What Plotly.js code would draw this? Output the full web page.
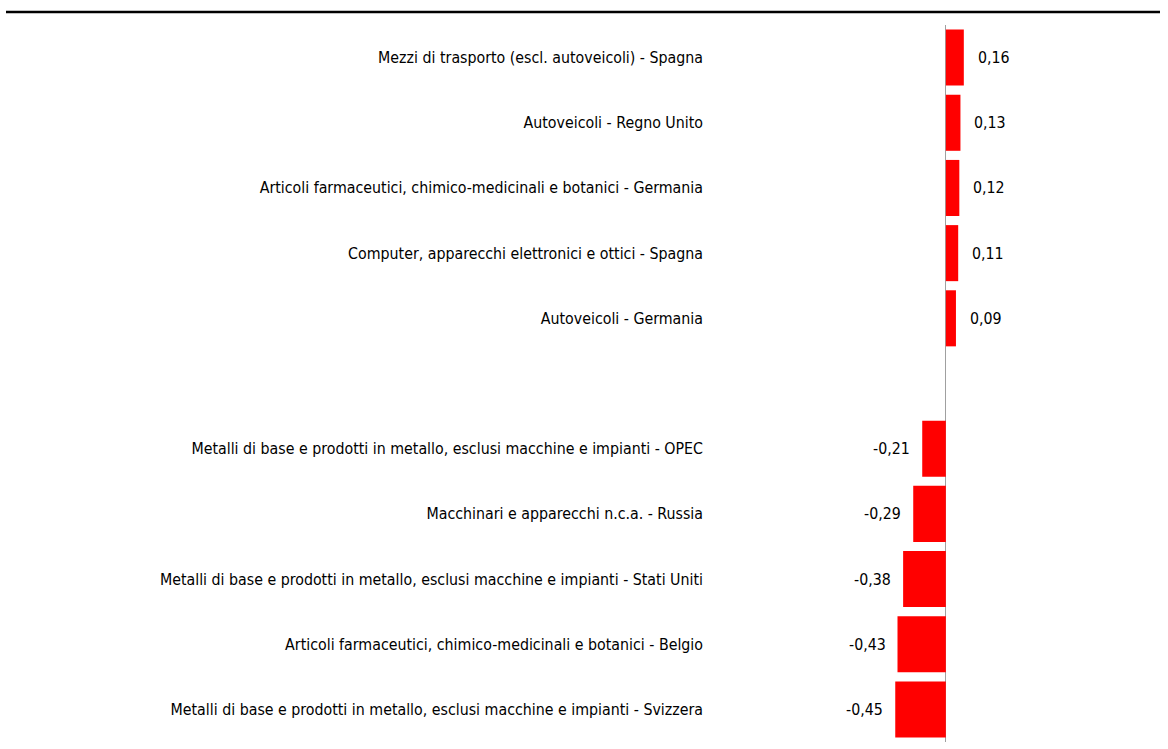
<!DOCTYPE html>
<html>
<head>
<meta charset="utf-8">
<script src="https://cdn.plot.ly/plotly-3.0.1.min.js"></script>
<style>body{margin:0;background:#fff}#chart{width:1168px;height:749px}</style>
</head>
<body>
<div id="chart"></div>
<script>
const categories = [
  "Mezzi di trasporto (escl. autoveicoli) - Spagna",
  "Autoveicoli - Regno Unito",
  "Articoli farmaceutici, chimico-medicinali e botanici - Germania",
  "Computer, apparecchi elettronici e ottici - Spagna",
  "Autoveicoli - Germania",
  " ",
  "Metalli di base e prodotti in metallo, esclusi macchine e impianti - OPEC",
  "Macchinari e apparecchi n.c.a. - Russia",
  "Metalli di base e prodotti in metallo, esclusi macchine e impianti - Stati Uniti",
  "Articoli farmaceutici, chimico-medicinali e botanici - Belgio",
  "Metalli di base e prodotti in metallo, esclusi macchine e impianti - Svizzera"
];
const values = [0.16, 0.13, 0.12, 0.11, 0.09, null, -0.21, -0.29, -0.38, -0.43, -0.45];

const FONT = '"Liberation Sans Narrow", "Arial Narrow", "DejaVu Sans Condensed", sans-serif';

const annotations = [];
categories.forEach((c, i) => {
  const v = values[i];
  if (v === null) return;
  annotations.push({
    x: v, y: c, xref: 'x', yref: 'y',
    text: v.toFixed(2).replace('.', ','),
    showarrow: false,
    xanchor: v >= 0 ? 'left' : 'right',
    xshift: v >= 0 ? 12 : -10,
    font: {family: FONT, size: 15.8, color: '#000'}
  });
});

const trace = {
  type: 'bar', orientation: 'h',
  y: categories, x: values,
  marker: {color: '#FF0000'},
  hoverinfo: 'skip'
};

const layout = {
  width: 1168, height: 749,
  margin: {l: 712, r: 8, t: 25, b: 7},
  paper_bgcolor: '#fff', plot_bgcolor: '#fff',
  showlegend: false,
  bargap: 0.14,
  font: {family: FONT, size: 15.8, color: '#000'},
  xaxis: {
    range: [-2.08, 1.905],
    showgrid: false, showticklabels: false, ticks: '',
    zeroline: true, zerolinecolor: '#a0a0a0', zerolinewidth: 1,
    showline: false, fixedrange: true
  },
  yaxis: {
    type: 'category', categoryorder: 'array', categoryarray: categories,
    autorange: 'reversed',
    showgrid: false, zeroline: false, showline: false, ticks: '',
    ticklabelstandoff: 8,
    tickfont: {family: FONT, size: 15.8, color: '#000'}
  },
  annotations: annotations,
  shapes: [{
    type: 'line', xref: 'paper', yref: 'paper',
    x0: (6 - 712) / 448, x1: (1160 - 712) / 448,
    y0: 1 + 13 / 717, y1: 1 + 13 / 717,
    line: {color: '#000', width: 2.5}
  }]
};

Plotly.newPlot('chart', [trace], layout, {displayModeBar: false, staticPlot: true});
</script>
</body>
</html>
